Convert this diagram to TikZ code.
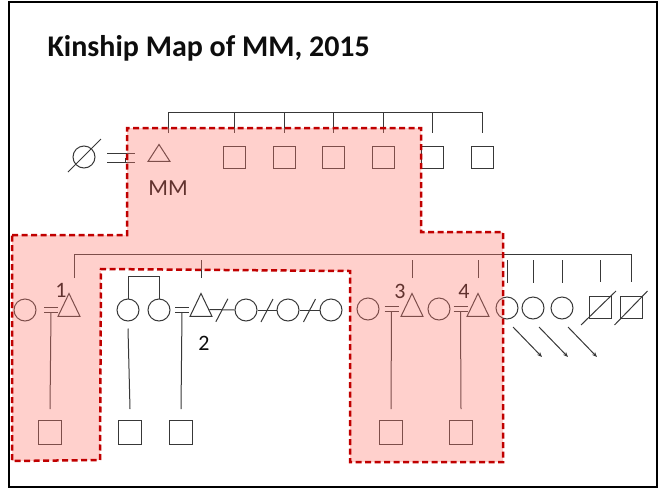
\documentclass[tikz,border=0pt]{standalone}
\usepackage{fontspec}
\setmainfont{Carlito}
\usetikzlibrary{shapes.geometric, arrows.meta}

\definecolor{cLine}{gray}{0.22}
\definecolor{cShade}{RGB}{255,120,110}
\definecolor{cBorder}{RGB}{192,0,0}
\definecolor{cText}{gray}{0.05}

\tikzset{
  kin/.style={draw=cLine, line width=1pt},
  male/.style={draw=cLine, line width=1pt, minimum width=22pt, minimum height=22pt, inner sep=0pt},
  female/.style={circle, draw=cLine, line width=1pt, minimum size=22pt, inner sep=0pt},
  tri/.style={isosceles triangle, isosceles triangle stretches, shape border rotate=90,
    draw=cLine, line width=1pt, minimum width=22pt, minimum height=23pt, inner sep=0pt},
  child/.style={male, minimum width=23pt, minimum height=24pt},
  shaded/.style={fill=cShade, fill opacity=0.35, draw=cBorder, line width=2.5pt,
    dash pattern=on 6pt off 3.5pt},
  num/.style={font=\fontsize{22}{24}\selectfont, text=cText, anchor=base},
}

\begin{document}
\begin{tikzpicture}[x=1pt, y=-1pt]

\useasboundingbox (0,0) rectangle (664,488);

% ── Frame and title ──
\draw[black, line width=2.5pt] (9,2) rectangle (657,487);
\node[anchor=base west, font=\fontsize{30}{32}\selectfont\bfseries, text=cText] (title) at (44,56)
  {Kinship Map of MM, 2015};

% ── First generation ──
\node[female] (gm) at (84,157) {};
\draw[kin] (gm) ++(-16,15) -- ++(33,-33);
\node[tri, minimum height=17pt] (mm) at (159,155.5) {};
\node[num, font=\fontsize{23}{24}\selectfont] (mmlab) at (168,195) {MM};
\coordinate (m0) at (121,157.5);
\draw[kin] (m0) ++(-14,-4.5) -- ++(28,0);
\draw[kin] (m0) ++(-14,4.5) -- ++(28,0);

\foreach \i/\sx in {1/234, 2/284, 3/333, 4/383, 5/432, 6/482}
  \node[male] (u\i) at (\sx,157) {};

% sibling bar of MM
\coordinate (mmtop) at (168,133);
\draw[kin] (mmtop) -- ++(0,-21) -| ([yshift=13pt]u6.north);
\foreach \n in {u1, u2, u3, u4, u5}
  \draw[kin] ([yshift=13pt]\n.north) -- ++(0,-21);

% ── Second generation ──
% 1
\node[female] (c1) at (25,310) {};
\node[tri] (t1) at (69,309.5) {};
\coordinate (m1) at (51,309.5);
\node[num] (l1) at (61,297) {1};
\node[child] (k1) at (50,432.5) {};

% 2
\node[female] (c2a) at (128,310) {};
\node[female] (c2b) at (159,310) {};
\node[tri] (t2) at (201,309.5) {};
\coordinate (m2) at (182,309.5);
\node[num] (l2) at (204,350) {2};
\node[child] (k2a) at (130,432.5) {};
\node[child] (k2b) at (181,432.5) {};
\draw[kin] (c2a.north) -- ++(0,-22) -| (c2b.north);
\draw[kin] ([yshift=-7pt]c2a.south) -- ([yshift=11pt]k2a.north);

\foreach \i/\sx in {1/246, 2/288, 3/331}
  \node[female] (w\i) at (\sx,310) {};
\draw[kin] (t2.east) -- (w1.west) coordinate[midway] (dv1);
\draw[kin] (w1.east) -- (w2.west) coordinate[midway] (dv2);
\draw[kin] (w2.east) -- (w3.west) coordinate[midway] (dv3);
\foreach \d in {dv1, dv2, dv3}
  \draw[kin] (\d) ++(-6,12) -- ++(12,-23);

% 3
\node[female] (c3) at (368,309) {};
\node[tri] (t3) at (412,309.5) {};
\coordinate (m3) at (391.5,308.5);
\node[num] (l3) at (400,298) {3};
\node[child] (k3) at (391,432.5) {};

% 4
\node[female] (c4) at (439,309) {};
\node[tri] (t4) at (478,309.5) {};
\coordinate (m4) at (460.5,308.5);
\node[num] (l4) at (464,298) {4};
\node[child] (k4) at (461,432.5) {};

% marriages and descent
\foreach \m/\k in {m1/k1, m2/k2b, m3/k3, m4/k4} {
  \draw[kin] (\m) ++(-7,-2.5) -- ++(14,0);
  \draw[kin] (\m) ++(-7,2.5) -- ++(14,0);
  \draw[kin] (\m) ++(0,2.5) -- ([yshift=11pt]\k.north);
}

% siblings on the right
\foreach \i/\sx in {1/507, 2/533, 3/562}
  \node[female] (r\i) at (\sx,308) {};
\node[male] (q1) at (600,307) {};
\node[male] (q2) at (631,307) {};
\draw[kin] (q1) ++(-19,18) -- ++(35,-34);
\draw[kin] (q2) ++(-16.5,18) -- ++(33,-34);
\foreach \n in {r1, r2, r3}
  \draw[kin, -{Stealth[length=5pt, width=4pt]}] (\n) ++(6,19) -- ++(29,30);

% sibling bar of generation 2
\coordinate (bar) at (0,260);
\draw[kin] (m0) ++(4,4.5) -- (m0 -| 125,0 |- bar);
\draw[kin] ([yshift=14pt, xshift=5pt]t1.north) -- ++(0,-24) -| ([yshift=14pt]q2.north);
\foreach \n in {t2, t3, t4, r1, r2, r3, q1}
  \draw[kin] ([yshift=14pt]\n.north) -- (\n.north |- bar);

% ── Shaded kin group ──
\filldraw[shaded] (12,235) -- (127,235) -- (127,128) -- (421,128) -- (421,232)
  -- (503,232) -- (503,462) -- (350,462) -- (350,271) -- (101,269) -- (100,460)
  -- (12,461) -- cycle;

\end{tikzpicture}
\end{document}
